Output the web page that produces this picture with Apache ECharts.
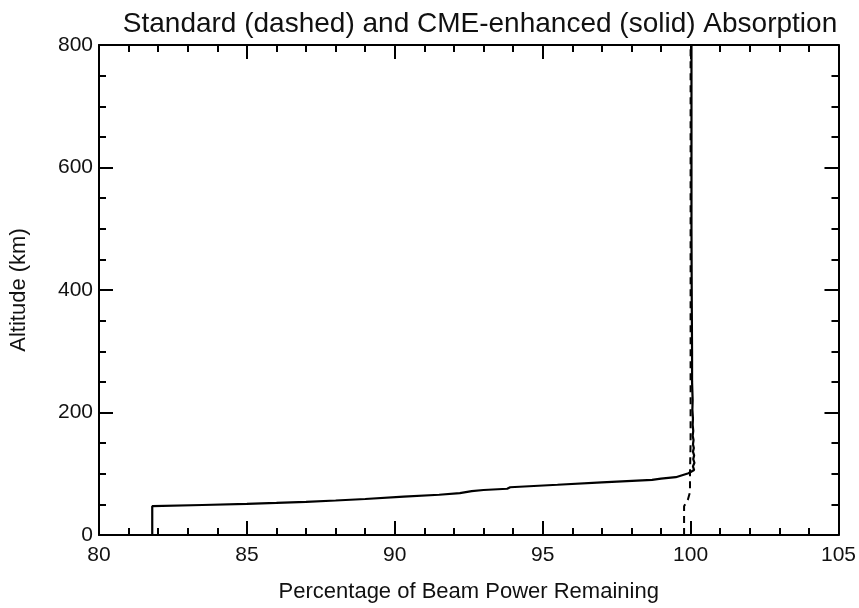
<!DOCTYPE html>
<html>
<head>
<meta charset="utf-8">
<script src="https://cdn.jsdelivr.net/npm/echarts@6/dist/echarts.min.js"></script>
<style>
  html, body { margin: 0; padding: 0; background: #fff; }
  #chart { width: 859px; height: 608px; }
</style>
</head>
<body>
<div id="chart"></div>
<script>
// percentage of beam power remaining vs altitude (km)
const solidPower = [81.8, 81.8, 83.5, 85.0, 86.0, 87.0, 88.0, 89.0, 90.3, 91.5, 92.2, 92.6, 93.0, 93.8, 93.9, 95.5, 97.0, 98.7, 99.0, 99.5, 99.93,
  100.12, 100.08, 100.13, 100.09, 100.12, 100.08, 100.11, 100.08, 100.1, 100.07, 100.09, 100.07, 100.08, 100.06, 100.07,
  100.05, 100.05, 100.04, 100.03, 100.03];
const solidAlt = [0, 47, 49, 50.8, 52.3, 54, 56.3, 58.8, 62.5, 65.7, 68.5, 71.5, 73.5, 75.5, 78, 82, 86, 90, 92, 94.4, 100.8,
  106, 112, 118, 124, 130, 136, 142, 148, 155, 162, 170, 180, 190, 205, 220,
  250, 300, 380, 500, 800];
const dashedPower = [99.78, 99.78, 99.91, 99.98, 99.98, 100.0, 100.0];
const dashedAlt = [0, 47, 58, 70, 100, 150, 800];

const xTicks = [80, 85, 90, 95, 100, 105];
const yTicks = [0, 200, 400, 600, 800];

const font = "'Liberation Sans', Arial, sans-serif";
const ink = '#111';

function pairs(xs, ys) {
  return xs.map((x, i) => [x, ys[i]]);
}

let chartDom = document.getElementById('chart');
let myChart = echarts.init(chartDom);

const axisLine = { show: true, onZero: false, lineStyle: { color: '#000', width: 2 } };
const axisTick = { show: true, inside: true, length: 14, lineStyle: { color: '#000', width: 2 } };

function xAxis(pos, withLabels) {
  let ax = {
    type: 'value', position: pos,
    min: xTicks[0], max: xTicks[xTicks.length - 1], interval: 5,
    axisLine: axisLine, axisTick: axisTick,
    minorTick: { show: true, splitNumber: 5, length: 7, lineStyle: { color: '#000', width: 2 } },
    splitLine: { show: false },
    axisLabel: { show: false }
  };
  if (withLabels) {
    ax.axisLabel = { margin: 10, fontFamily: font, fontSize: 21, color: ink };
    ax.name = 'Percentage of Beam Power Remaining';
    ax.nameLocation = 'middle';
    ax.nameGap = 46;
    ax.nameTextStyle = { fontFamily: font, fontSize: 22, color: ink };
  }
  return ax;
}

function yAxis(pos, withLabels) {
  let ax = {
    type: 'value', position: pos,
    min: yTicks[0], max: yTicks[yTicks.length - 1], interval: 200,
    axisLine: axisLine, axisTick: axisTick,
    minorTick: { show: true, splitNumber: 4, length: 7, lineStyle: { color: '#000', width: 2 } },
    splitLine: { show: false },
    axisLabel: { show: false }
  };
  if (withLabels) {
    ax.axisLabel = { margin: 6, fontFamily: font, fontSize: 21, color: ink };
    ax.name = 'Altitude (km)';
    ax.nameLocation = 'middle';
    ax.nameGap = 69;
    ax.nameTextStyle = { fontFamily: font, fontSize: 22, color: ink };
  }
  return ax;
}

let option = {
  animation: false,
  backgroundColor: '#fff',
  title: {
    text: 'Standard (dashed) and CME-enhanced (solid) Absorption',
    left: 475,
    top: 5,
    textAlign: 'center',
    textStyle: { fontFamily: font, fontSize: 28, fontWeight: 'normal', color: ink }
  },
  grid: { left: 91, right: 20, top: 45, bottom: 59, containLabel: false },
  xAxis: [xAxis('bottom', true), xAxis('top', false)],
  yAxis: [yAxis('left', true), yAxis('right', false)],
  series: [
    {
      name: 'Standard',
      type: 'line',
      xAxisIndex: 0, yAxisIndex: 0,
      data: pairs(dashedPower, dashedAlt),
      showSymbol: false,
      lineStyle: { color: '#000', width: 2, type: [7, 5] },
      z: 2
    },
    {
      name: 'CME-enhanced',
      type: 'line',
      xAxisIndex: 0, yAxisIndex: 0,
      data: pairs(solidPower, solidAlt),
      showSymbol: false,
      lineStyle: { color: '#000', width: 2.2 },
      z: 3
    }
  ]
};

option && myChart.setOption(option);
</script>
</body>
</html>
